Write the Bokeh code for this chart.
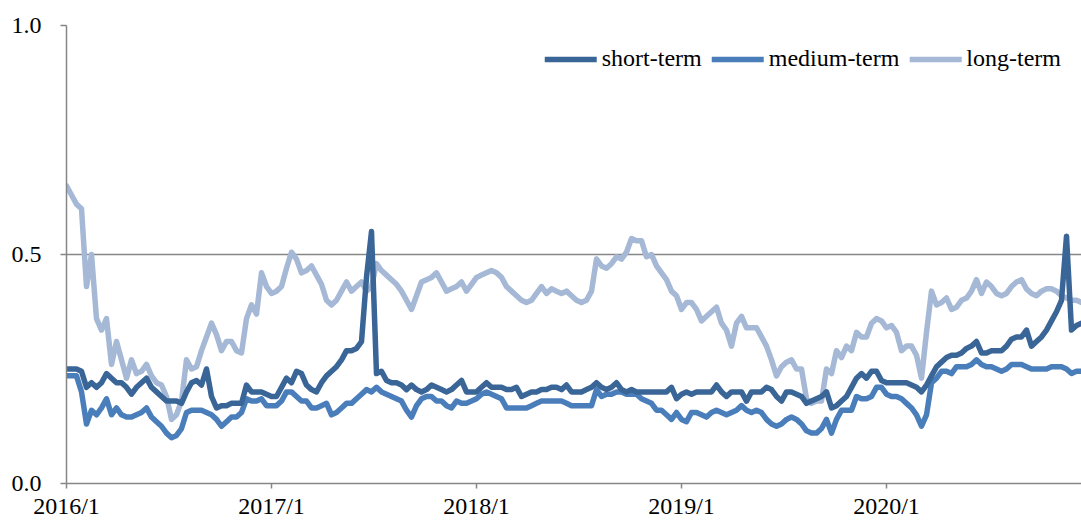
from bokeh.plotting import figure
from bokeh.models import Range1d, FixedTicker, Legend, LegendItem
from bokeh.embed import file_html
from bokeh.resources import INLINE

# observation index (equally spaced samples, 2016/1 .. 2020/12)
short_term = [
    0.25, 0.25, 0.25, 0.245, 0.21, 0.22, 0.21, 0.22, 0.24, 0.23,
    0.22, 0.22, 0.21, 0.195, 0.21, 0.22, 0.23, 0.21, 0.20, 0.19,
    0.18, 0.18, 0.18, 0.175, 0.20, 0.22, 0.225, 0.215, 0.25, 0.19,
    0.165, 0.17, 0.17, 0.175, 0.175, 0.175, 0.215, 0.20, 0.20, 0.20,
    0.195, 0.19, 0.19, 0.21, 0.23, 0.22, 0.245, 0.24, 0.215, 0.205,
    0.20, 0.22, 0.235, 0.245, 0.255, 0.27, 0.29, 0.29, 0.295, 0.31,
    0.45, 0.55, 0.24, 0.245, 0.225, 0.22, 0.22, 0.215, 0.205, 0.215,
    0.205, 0.20, 0.205, 0.215, 0.21, 0.205, 0.20, 0.205, 0.215, 0.225,
    0.20, 0.20, 0.20, 0.21, 0.22, 0.21, 0.21, 0.21, 0.205, 0.205,
    0.21, 0.19, 0.195, 0.20, 0.20, 0.205, 0.205, 0.21, 0.21, 0.205,
    0.215, 0.20, 0.20, 0.20, 0.205, 0.21, 0.22, 0.21, 0.205, 0.21,
    0.22, 0.205, 0.20, 0.205, 0.20, 0.20, 0.20, 0.20, 0.20, 0.20,
    0.20, 0.21, 0.185, 0.195, 0.20, 0.195, 0.20, 0.20, 0.20, 0.20,
    0.215, 0.20, 0.19, 0.20, 0.20, 0.20, 0.18, 0.20, 0.20, 0.20,
    0.21, 0.205, 0.19, 0.18, 0.20, 0.20, 0.195, 0.19, 0.175, 0.18,
    0.185, 0.19, 0.20, 0.165, 0.17, 0.18, 0.19, 0.21, 0.23, 0.24,
    0.23, 0.245, 0.245, 0.225, 0.22, 0.22, 0.22, 0.22, 0.22, 0.215,
    0.21, 0.20, 0.215, 0.235, 0.255, 0.265, 0.275, 0.28, 0.28, 0.285,
    0.295, 0.30, 0.31, 0.285, 0.285, 0.29, 0.29, 0.29, 0.30, 0.315,
    0.32, 0.32, 0.335, 0.30, 0.31, 0.32, 0.335, 0.355, 0.375, 0.40,
    0.54, 0.335, 0.345, 0.35,
]

medium_term = [
    0.235, 0.235, 0.235, 0.20, 0.13, 0.16, 0.15, 0.165, 0.185, 0.15,
    0.165, 0.15, 0.145, 0.145, 0.15, 0.155, 0.165, 0.145, 0.135, 0.125,
    0.11, 0.10, 0.105, 0.12, 0.155, 0.16, 0.16, 0.16, 0.155, 0.15,
    0.14, 0.125, 0.135, 0.145, 0.145, 0.155, 0.185, 0.18, 0.18, 0.185,
    0.17, 0.17, 0.17, 0.18, 0.20, 0.20, 0.19, 0.18, 0.18, 0.165,
    0.165, 0.17, 0.175, 0.15, 0.155, 0.165, 0.175, 0.175, 0.185, 0.195,
    0.205, 0.20, 0.21, 0.20, 0.195, 0.19, 0.185, 0.18, 0.16, 0.145,
    0.17, 0.185, 0.19, 0.19, 0.18, 0.18, 0.17, 0.165, 0.18, 0.175,
    0.175, 0.18, 0.185, 0.195, 0.20, 0.195, 0.19, 0.185, 0.165, 0.165,
    0.165, 0.165, 0.165, 0.17, 0.175, 0.18, 0.18, 0.18, 0.18, 0.18,
    0.175, 0.17, 0.17, 0.17, 0.17, 0.17, 0.205, 0.19, 0.195, 0.195,
    0.20, 0.20, 0.195, 0.195, 0.195, 0.185, 0.18, 0.175, 0.16, 0.16,
    0.15, 0.14, 0.155, 0.14, 0.135, 0.155, 0.155, 0.15, 0.145, 0.155,
    0.16, 0.155, 0.15, 0.155, 0.16, 0.17, 0.16, 0.155, 0.16, 0.155,
    0.14, 0.13, 0.125, 0.13, 0.14, 0.145, 0.14, 0.13, 0.115, 0.11,
    0.11, 0.12, 0.14, 0.11, 0.14, 0.16, 0.16, 0.16, 0.19, 0.185,
    0.185, 0.19, 0.21, 0.21, 0.195, 0.19, 0.19, 0.185, 0.175, 0.165,
    0.15, 0.125, 0.15, 0.22, 0.23, 0.245, 0.245, 0.24, 0.255, 0.255,
    0.255, 0.26, 0.27, 0.26, 0.255, 0.255, 0.25, 0.245, 0.25, 0.26,
    0.26, 0.26, 0.255, 0.25, 0.25, 0.25, 0.25, 0.255, 0.255, 0.255,
    0.25, 0.24, 0.245, 0.245,
]

long_term = [
    0.65, 0.63, 0.61, 0.60, 0.43, 0.50, 0.36, 0.335, 0.36, 0.26,
    0.31, 0.27, 0.23, 0.27, 0.24, 0.245, 0.26, 0.235, 0.22, 0.215,
    0.19, 0.14, 0.15, 0.18, 0.27, 0.25, 0.255, 0.29, 0.32, 0.35,
    0.325, 0.29, 0.31, 0.31, 0.29, 0.285, 0.36, 0.39, 0.37, 0.46,
    0.43, 0.415, 0.42, 0.43, 0.47, 0.505, 0.49, 0.46, 0.465, 0.475,
    0.455, 0.435, 0.40, 0.39, 0.40, 0.42, 0.44, 0.42, 0.43, 0.44,
    0.42, 0.43, 0.48, 0.465, 0.455, 0.445, 0.435, 0.42, 0.40, 0.38,
    0.41, 0.44, 0.445, 0.45, 0.46, 0.44, 0.42, 0.425, 0.43, 0.44,
    0.42, 0.435, 0.45, 0.455, 0.46, 0.465, 0.46, 0.45, 0.43, 0.42,
    0.41, 0.40, 0.395, 0.40, 0.415, 0.43, 0.415, 0.425, 0.42, 0.415,
    0.42, 0.41, 0.40, 0.395, 0.40, 0.42, 0.49, 0.475, 0.47, 0.48,
    0.495, 0.49, 0.505, 0.535, 0.53, 0.53, 0.495, 0.50, 0.475, 0.46,
    0.445, 0.42, 0.41, 0.38, 0.395, 0.395, 0.38, 0.355, 0.365, 0.375,
    0.385, 0.35, 0.335, 0.30, 0.35, 0.365, 0.34, 0.34, 0.34, 0.32,
    0.30, 0.27, 0.235, 0.255, 0.265, 0.27, 0.25, 0.25, 0.185, 0.175,
    0.18, 0.18, 0.25, 0.24, 0.29, 0.275, 0.30, 0.29, 0.33, 0.32,
    0.32, 0.35, 0.36, 0.355, 0.34, 0.345, 0.33, 0.29, 0.30, 0.30,
    0.28, 0.23, 0.33, 0.42, 0.39, 0.395, 0.405, 0.38, 0.385, 0.40,
    0.405, 0.42, 0.445, 0.415, 0.44, 0.43, 0.415, 0.41, 0.415, 0.43,
    0.44, 0.445, 0.425, 0.415, 0.41, 0.42, 0.425, 0.425, 0.42, 0.41,
    0.405, 0.40, 0.40, 0.395,
]

obs = list(range(len(short_term)))

# first observation of each year
year_tick_pos = [0, 41, 82, 123, 164]
year_tick_labels = ["2016/1", "2017/1", "2018/1", "2019/1", "2020/1"]

y_ticks = [0.0, 0.5, 1.0]
y_tick_labels = ["0.0", "0.5", "1.0"]

FONT = "Liberation Serif"
AXIS_GRAY = "#868686"

p = figure(
    width=1081, height=521,
    output_backend="svg", toolbar_location=None,
    x_range=Range1d(0, 203), y_range=Range1d(0, 1.0),
    min_border_left=66, min_border_right=0, min_border_top=25, min_border_bottom=37,
)
p.outline_line_color = None
p.background_fill_color = "white"
p.border_fill_color = "white"

p.xgrid.grid_line_color = None
p.ygrid.grid_line_color = AXIS_GRAY
p.ygrid.grid_line_width = 1.5
p.ygrid.ticker = FixedTicker(ticks=y_ticks)

# x axis
p.xaxis.ticker = FixedTicker(ticks=year_tick_pos)
p.xaxis.major_label_overrides = {t: l for t, l in zip(year_tick_pos, year_tick_labels)}
p.xaxis.axis_line_color = AXIS_GRAY
p.xaxis.axis_line_width = 1.5
p.xaxis.major_tick_line_color = AXIS_GRAY
p.xaxis.major_tick_line_width = 1.5
p.xaxis.major_tick_in = 0
p.xaxis.major_tick_out = 5
p.xaxis.minor_tick_line_color = None
p.xaxis.major_label_standoff = 4
p.xaxis.major_label_text_font = FONT
p.xaxis.major_label_text_font_size = "24px"
p.xaxis.major_label_text_color = "black"

# y axis
p.yaxis.ticker = FixedTicker(ticks=y_ticks)
p.yaxis.major_label_overrides = {t: l for t, l in zip(y_ticks, y_tick_labels)}
p.yaxis.axis_line_color = AXIS_GRAY
p.yaxis.axis_line_width = 1.5
p.yaxis.major_tick_line_color = AXIS_GRAY
p.yaxis.major_tick_line_width = 1.5
p.yaxis.major_tick_in = 0
p.yaxis.major_tick_out = 6
p.yaxis.minor_tick_line_color = None
p.yaxis.major_label_standoff = 19
p.yaxis.major_label_text_font = FONT
p.yaxis.major_label_text_font_size = "24px"
p.yaxis.major_label_text_color = "black"

colors = {"short": "#3a6597", "medium": "#4a7ebb", "long": "#a5b8d5"}
LW = 5.5

r_long = p.line(obs, long_term, line_color=colors["long"], line_width=LW,
                line_join="round", line_cap="round")
r_med = p.line(obs, medium_term, line_color=colors["medium"], line_width=LW,
               line_join="round", line_cap="round")
r_short = p.line(obs, short_term, line_color=colors["short"], line_width=LW,
                 line_join="round", line_cap="round")

legend = Legend(
    items=[
        LegendItem(label="short-term", renderers=[r_short]),
        LegendItem(label="medium-term", renderers=[r_med]),
        LegendItem(label="long-term", renderers=[r_long]),
    ],
    orientation="horizontal",
    location="top_right",
    label_text_font=FONT,
    label_text_font_size="24px",
    label_text_color="black",
    glyph_width=52,
    glyph_height=20,
    label_standoff=5,
    spacing=10,
    padding=0,
    margin=20,
    border_line_color=None,
    background_fill_alpha=0,
)
p.add_layout(legend)

open("out.html", "w").write(file_html(p, INLINE))
